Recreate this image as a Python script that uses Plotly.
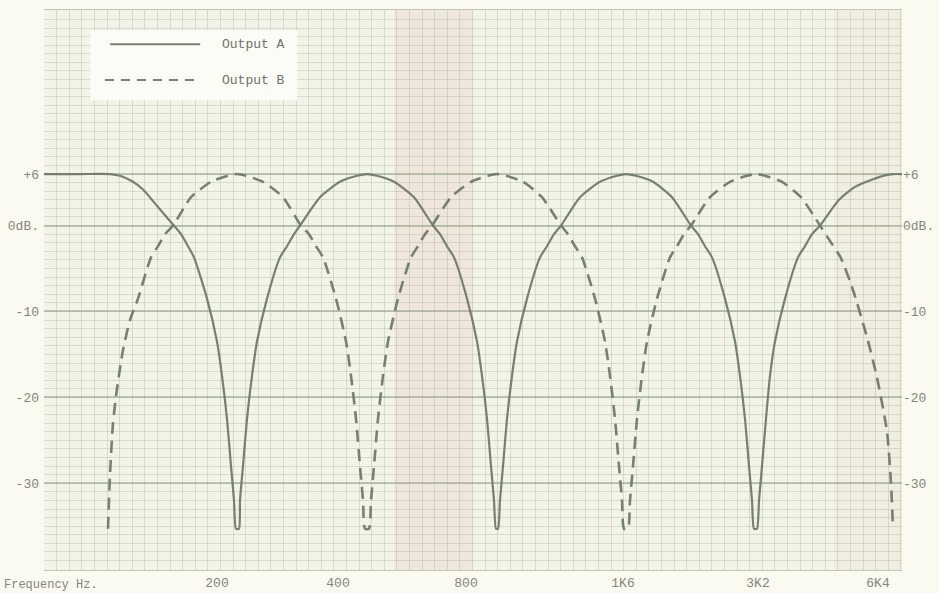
import plotly.graph_objects as go

# ---- data (x in chart-position units along the linear frequency strip, y in dB) ----
a_x = [0, 36, 66, 76, 89, 99, 113, 121, 130, 137, 144, 150, 163, 173, 178, 183, 187, 190, 192,
       195, 196, 199, 203, 208, 213, 223, 236, 243, 250, 256, 276, 296, 313, 323, 333, 350, 370,
       389, 396, 403, 410, 423, 433, 438, 443, 447, 450, 452,
       454, 456, 459, 463, 468, 473, 483, 496, 503, 510, 517, 536, 556, 573, 582, 592, 609, 628,
       647, 654, 661, 668, 681, 691, 696, 701, 705, 708, 710,
       713, 715, 718, 722, 726, 731, 741, 754, 761, 768, 776, 795, 811, 829, 841, 849, 858]
a_db = [6.0, 6.0, 6.0, 5.8, 5.1, 4.2, 2.3, 1.2, 0.0, -1.0, -2.4, -3.7, -8.5, -13.5, -17.5, -22.5, -28, -32, -35.3,
        -35.3, -32, -28, -22.5, -17.5, -13.5, -8.5, -3.7, -2.4, -1.0, 0.0, 3.3, 5.1, 5.8, 6.0, 5.8, 5.1, 3.3,
        0.0, -1.0, -2.4, -3.7, -8.5, -13.5, -17.5, -22.5, -28, -32, -35.3,
        -35.3, -32, -28, -22.5, -17.5, -13.5, -8.5, -3.7, -2.4, -1.0, 0.0, 3.3, 5.1, 5.8, 6.0, 5.8, 5.1, 3.3,
        0.0, -1.0, -2.4, -3.7, -8.5, -13.5, -17.5, -22.5, -28, -32, -35.3,
        -35.3, -32, -28, -22.5, -17.5, -13.5, -8.5, -3.7, -2.4, -1.0, 0.0, 3.0, 4.5, 5.4, 5.85, 6.0, 6.0]

b_x = [64, 66, 69, 73, 79, 86, 94, 107, 114, 121, 129, 147, 167, 184, 193, 202, 219, 239,
       257, 265, 272, 279, 292, 302, 307, 312, 316, 319, 321,
       325, 327, 330, 334, 339, 344, 354, 367, 374, 381, 388, 407, 427, 444, 453, 462, 479, 498,
       517, 524, 531, 538, 551, 561, 566, 571, 575, 578, 580,
       584, 586, 589, 593, 598, 603, 613, 626, 633, 640, 647, 666, 686, 703, 712, 721, 738, 757,
       776, 786, 797, 809, 823, 833, 843, 847, 849]
b_db = [-35.3, -29, -23, -19, -14.5, -11, -8.5, -3.7, -2.4, -1.0, 0.0, 3.3, 5.1, 5.8, 6.0, 5.8, 5.1, 3.3,
        0.0, -1.0, -2.4, -3.7, -8.5, -13.5, -17.5, -22.5, -28, -32, -35.3,
        -35.3, -32, -28, -22.5, -17.5, -13.5, -8.5, -3.7, -2.4, -1.0, 0.0, 3.3, 5.1, 5.8, 6.0, 5.8, 5.1, 3.3,
        0.0, -1.0, -2.4, -3.7, -8.5, -13.5, -17.5, -22.5, -28, -32, -35.3,
        -35.3, -32, -28, -22.5, -17.5, -13.5, -8.5, -3.7, -2.4, -1.0, 0.0, 3.3, 5.1, 5.8, 6.0, 5.8, 5.1, 3.3,
        0.0, -1.8, -3.8, -7.5, -13, -17.7, -24, -30, -35.3]

x_tick_pos = [173, 294, 422, 579, 714, 834]
x_tick_text = ["200", "400", "800", "1K6", "3K2", "6K4"]
y_tick_vals = [6, 0, -10, -20, -30]
y_tick_text = ["+6", "0dB.", "-10", "-20", "-30"]
series_names = ["Output A", "Output B"]

# ---- styling ----
FONT = "Liberation Mono"
INK = "rgba(112,122,104,0.95)"
TXT = "#85857a"
GRID = "rgba(170,180,158,0.38)"
GRID_MAJ = "rgba(155,165,142,0.6)"
PAPER = "#fafaf0"

fig = go.Figure()
fig.add_trace(go.Scatter(x=a_x, y=a_db, name=series_names[0], mode="lines",
                         line=dict(color=INK, width=2.2, shape="spline", smoothing=0.6),
                         showlegend=False))
fig.add_trace(go.Scatter(x=b_x, y=b_db, name=series_names[1], mode="lines",
                         line=dict(color=INK, width=2.6, dash="12px,7px", shape="spline", smoothing=0.6),
                         showlegend=False))
# right-hand copy of the dB scale
fig.add_trace(go.Scatter(x=[None], y=[None], yaxis="y2", showlegend=False, hoverinfo="skip"))

fig.update_layout(
    width=939, height=593,
    margin=dict(l=44, r=37, t=10, b=23),
    paper_bgcolor=PAPER,
    plot_bgcolor="#f3f4e8",
    font=dict(family=FONT, size=13, color=TXT),
    xaxis=dict(range=[0, 858], tickmode="array", tickvals=x_tick_pos, ticktext=x_tick_text,
               showgrid=False, zeroline=False, ticks="", ticklen=0, automargin=False,
               showline=True, linecolor=GRID_MAJ, mirror=True,
               minor=dict(tickmode="linear", tick0=0, dtick=12.6, showgrid=True,
                          gridcolor=GRID, gridwidth=1, ticks="")),
    yaxis=dict(range=[-40.1, 25.1], tickmode="array", tickvals=y_tick_vals, ticktext=y_tick_text,
               showgrid=True, gridcolor=GRID_MAJ, gridwidth=1.5, zeroline=False, ticks="",
               showline=False, automargin=False, ticklabelstandoff=4,
               minor=dict(tickmode="linear", tick0=0, dtick=1, showgrid=True,
                          gridcolor=GRID, gridwidth=1, ticks="")),
    yaxis2=dict(range=[-40.1, 25.1], overlaying="y", side="right", tickmode="array",
                tickvals=y_tick_vals, ticktext=y_tick_text, showgrid=False, zeroline=False,
                ticks="", showline=False, automargin=False),
    showlegend=False,
)

# faint pink tint bands of the graph paper
fig.add_shape(type="rect", xref="x", yref="paper", x0=350, x1=429, y0=0, y1=1,
              fillcolor="rgba(232,205,196,0.35)", line=dict(width=0), layer="below")
fig.add_shape(type="rect", xref="x", yref="paper", x0=790, x1=858, y0=0, y1=1,
              fillcolor="rgba(232,212,200,0.22)", line=dict(width=0), layer="below")

# legend box drawn like the typed legend of the original
fig.add_shape(type="rect", xref="paper", yref="paper", x0=0.054, x1=0.295, y0=0.839, y1=0.964,
              fillcolor="#fcfcf6", line=dict(width=0))
fig.add_shape(type="line", xref="paper", yref="paper", x0=0.077, x1=0.182, y0=0.939, y1=0.939,
              line=dict(color=INK, width=2))
fig.add_shape(type="line", xref="paper", yref="paper", x0=0.071, x1=0.182, y0=0.875, y1=0.875,
              line=dict(color=INK, width=2.2, dash="9px,7px"))
for name, yy in zip(series_names, [0.939, 0.875]):
    fig.add_annotation(text=name, xref="paper", yref="paper", x=0.205, y=yy,
                       xanchor="left", yanchor="middle", showarrow=False,
                       font=dict(family=FONT, size=13, color="#707066"))

fig.add_annotation(text="Frequency Hz.", xref="paper", yref="paper", x=-0.049, y=-0.027,
                   xanchor="left", yanchor="middle", showarrow=False,
                   font=dict(family=FONT, size=12, color=TXT))

fig.write_html("out.html",
               config={"displayModeBar": False},
               post_script="document.body.style.margin='0';"
                           "document.body.style.background='" + PAPER + "';"
                           "document.body.style.overflow='hidden';")
